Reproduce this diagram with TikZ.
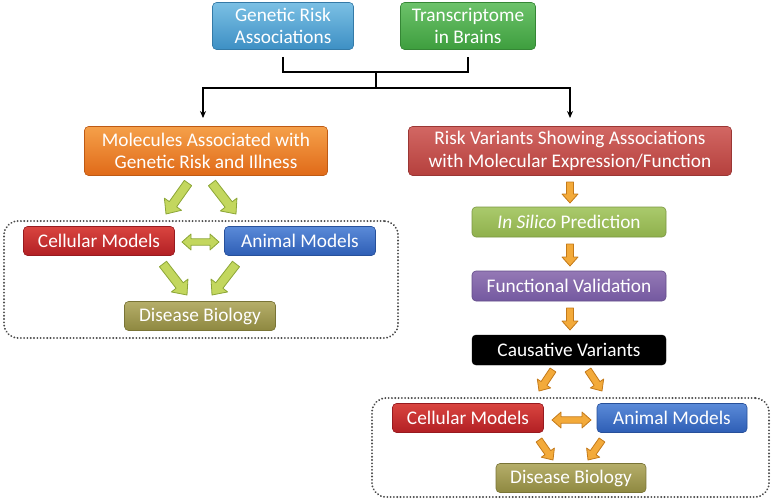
\documentclass[tikz,border=0pt]{standalone}
\usepackage{fontspec}
\setmainfont{Carlito}
\usetikzlibrary{calc,arrows.meta}
\definecolor{gentop}{HTML}{7BC0E4}\definecolor{genbot}{HTML}{3D8FC4}
\definecolor{trtop}{HTML}{6CC26A}\definecolor{trbot}{HTML}{3E9E3E}
\definecolor{moltop}{HTML}{F5A04A}\definecolor{molbot}{HTML}{E06A18}
\definecolor{risktop}{HTML}{D26763}\definecolor{riskbot}{HTML}{B5403D}
\definecolor{celltop}{HTML}{D9453F}\definecolor{cellbot}{HTML}{B21F24}
\definecolor{animtop}{HTML}{5A8AD8}\definecolor{animbot}{HTML}{2E5EB5}
\definecolor{distop}{HTML}{B5AE6A}\definecolor{disbot}{HTML}{8E8840}
\definecolor{siltop}{HTML}{AACA6C}\definecolor{silbot}{HTML}{8FB04C}
\definecolor{functop}{HTML}{9478B5}\definecolor{funcbot}{HTML}{7459A0}
\definecolor{gafill}{HTML}{C3D75E}\definecolor{galine}{HTML}{8CA636}
\definecolor{oafill}{HTML}{F3AA3A}\definecolor{oaline}{HTML}{C47A1A}
\definecolor{dotcol}{HTML}{4A4A4A}
\begin{document}
\begin{tikzpicture}[x=1pt,y=-1pt,
  box/.style={rounded corners=4pt, text=white, align=center, inner sep=0pt,
    font=\fontsize{19.3}{22.5}\selectfont},
  cbox/.style 2 args={box, top color=#1, bottom color=#2, draw=#2!85!black, line width=0.6pt},
  wide/.style={minimum width=#1pt, minimum height=29pt},
  container/.style={draw=dotcol, line width=2pt, dash pattern=on 0.1pt off 3.2pt,
    line cap=round, rounded corners=14pt},
  conn/.style={draw=black, line width=1.3pt},
  barrow/.style n args={3}{to path={let \p1=(\tikztostart),\p2=(\tikztotarget),
     \n1={atan2(\y2-\y1,\x2-\x1)},\n2={veclen(\x2-\x1,\y2-\y1)} in
     {[shift={(\p1)},rotate=\n1] (0pt,-#1) -- ({\n2*1pt-#3},-#1) -- ({\n2*1pt-#3},-#2)
       -- ({\n2*1pt},0pt) -- ({\n2*1pt-#3},#2) -- ({\n2*1pt-#3},#1) -- (0pt,#1) -- cycle}}},
  dbarrow/.style n args={3}{to path={let \p1=(\tikztostart),\p2=(\tikztotarget),
     \n1={atan2(\y2-\y1,\x2-\x1)},\n2={veclen(\x2-\x1,\y2-\y1)} in
     {[shift={(\p1)},rotate=\n1] (0pt,0pt) -- (#3,-#2) -- (#3,-#1) -- ({\n2*1pt-#3},-#1) -- ({\n2*1pt-#3},-#2)
       -- ({\n2*1pt},0pt) -- ({\n2*1pt-#3},#2) -- ({\n2*1pt-#3},#1) -- (#3,#1) -- (#3,#2) -- cycle}}},
  garrow/.style={fill=gafill, draw=galine, line width=0.8pt, line join=round, barrow={4.5pt}{10.5pt}{12pt}},
  gdarrow/.style={fill=gafill, draw=galine, line width=0.8pt, line join=round, dbarrow={3.2pt}{8pt}{9pt}},
  oarrow/.style={fill=oafill, draw=oaline, line width=0.8pt, line join=round, barrow={3.5pt}{8pt}{9pt}},
  odarrow/.style={fill=oafill, draw=oaline, line width=0.8pt, line join=round, dbarrow={3.2pt}{8pt}{9pt}}
]
\useasboundingbox (0,0) rectangle (772,501);

% containers
\node[container, minimum width=394pt, minimum height=117pt] (cont1) at (201,279.5) {};
\node[container, minimum width=397pt, minimum height=99pt] (cont2) at (570.5,447.5) {};

% top
\node[cbox={gentop}{genbot}, minimum width=141pt, minimum height=47pt] (gen) at (283,26) {Genetic Risk\\Associations};
\node[cbox={trtop}{trbot}, minimum width=135pt, minimum height=47pt] (trans) at (468,26) {Transcriptome\\in Brains};

% second row
\node[cbox={moltop}{molbot}, minimum width=243pt, minimum height=49pt] (mol) at (206,151) {Molecules Associated with\\Genetic Risk and Illness};
\node[cbox={risktop}{riskbot}, minimum width=323pt, minimum height=49pt] (risk) at (570,151) {Risk Variants Showing Associations\\with Molecular Expression/Function};

% left models
\node[cbox={celltop}{cellbot}, wide=151] (cell1) at (99,241) {Cellular Models};
\node[cbox={animtop}{animbot}, wide=151] (anim1) at (300,241) {Animal Models};
\node[cbox={distop}{disbot}, wide=151] (dis1) at (200,316) {Disease Biology};

% right chain
\node[cbox={siltop}{silbot}, minimum width=194pt, minimum height=30pt] (silico) at (569,222) {\textit{In Silico} Prediction};
\node[cbox={functop}{funcbot}, minimum width=194pt, minimum height=30pt] (func) at (569,286) {Functional Validation};
\node[box, fill=black, draw=black, minimum width=194pt, minimum height=30pt] (caus) at (569,350) {Causative Variants};

% right models
\node[cbox={celltop}{cellbot}, wide=151] (cell2) at (468,418) {Cellular Models};
\node[cbox={animtop}{animbot}, wide=150] (anim2) at (672,418) {Animal Models};
\node[cbox={distop}{disbot}, wide=150] (dis2) at (571,478) {Disease Biology};

% bracket connectors
\coordinate (j1) at (376,72);
\coordinate (j2) at (376,88);
\coordinate (tl) at (203,118);
\coordinate (tr) at (570,118);
\draw[conn] ([yshift=-7pt]gen.south) |- (j1) -| ([yshift=-7pt]trans.south);
\draw[conn] (j1) -- (j2);
\draw[conn, -{Stealth[length=7pt,width=6pt]}] (j2) -| (tl);
\draw[conn, -{Stealth[length=7pt,width=6pt]}] (j2) -| (tr);

% green block arrows
\coordinate (g1s) at (188,183); \coordinate (g1e) at (166,214);
\coordinate (g2s) at (212,183); \coordinate (g2e) at (236,214);
\coordinate (gds) at (182,242); \coordinate (gde) at (219,242);
\coordinate (g3s) at (163,264); \coordinate (g3e) at (187,295);
\coordinate (g4s) at (236,264); \coordinate (g4e) at (212,295);
\draw[garrow] (g1s) to (g1e);
\draw[garrow] (g2s) to (g2e);
\draw[gdarrow] (gds) to (gde);
\draw[garrow] (g3s) to (g3e);
\draw[garrow] (g4s) to (g4e);

% orange block arrows
\coordinate (o1s) at (570,182); \coordinate (o1e) at (570,203);
\coordinate (o2s) at (570,244); \coordinate (o2e) at (570,266);
\coordinate (o3s) at (570,308); \coordinate (o3e) at (570,330);
\coordinate (o4s) at (553,370); \coordinate (o4e) at (539,391);
\coordinate (o5s) at (588,370); \coordinate (o5e) at (602,391);
\coordinate (ods) at (552,420); \coordinate (ode) at (591,420);
\coordinate (o6s) at (539,440); \coordinate (o6e) at (553,460);
\coordinate (o7s) at (602,440); \coordinate (o7e) at (588,460);
\draw[oarrow] (o1s) to (o1e);
\draw[oarrow] (o2s) to (o2e);
\draw[oarrow] (o3s) to (o3e);
\draw[oarrow] (o4s) to (o4e);
\draw[oarrow] (o5s) to (o5e);
\draw[odarrow] (ods) to (ode);
\draw[oarrow] (o6s) to (o6e);
\draw[oarrow] (o7s) to (o7e);
\end{tikzpicture}
\end{document}
